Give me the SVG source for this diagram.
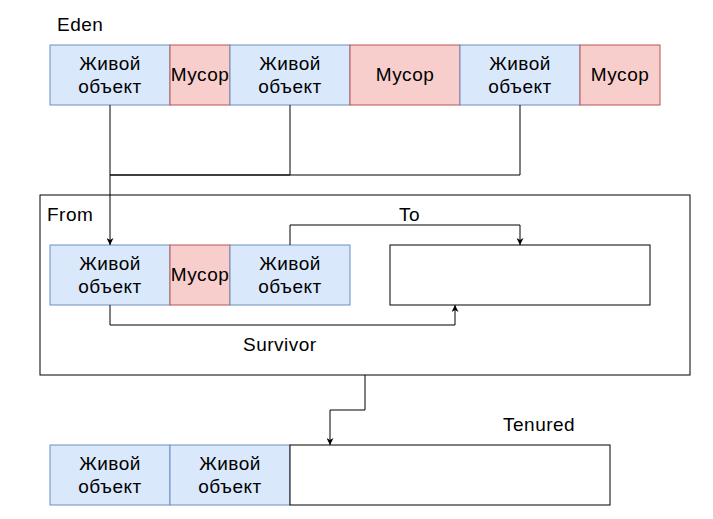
<svg xmlns="http://www.w3.org/2000/svg" width="713" height="519" viewBox="0 0 713 519">
<style>
text{font-family:"Liberation Sans",Arial,Helvetica,sans-serif;font-size:19px;letter-spacing:0.5px;fill:#000}
.c{text-anchor:middle}
.live{fill:#dae8fc;stroke:#6c8ebf;stroke-width:1}
.junk{fill:#f8cecc;stroke:#b85450;stroke-width:1}
.box{fill:#fff;stroke:#000;stroke-width:1}
.ln{fill:none;stroke:#000;stroke-width:1}
</style>
<defs>
<marker id="ah" viewBox="0 0 10 10" refX="10" refY="5" markerWidth="7" markerHeight="7" orient="auto" markerUnits="userSpaceOnUse">
<path d="M0,0 L10,5 L0,10 L3,5 Z" fill="#000"/>
</marker>
</defs>
<rect width="713" height="519" fill="#fff"/>
<text x="57" y="31">Eden</text>
<g id="survivor">
<rect class="box" x="40" y="195" width="650" height="180"/>
<text x="47" y="221">From</text>
<text x="399" y="221">To</text>
<text x="243" y="351">Survivor</text>
</g>
<g id="eden-live1"><rect class="live" x="50" y="45" width="120" height="60"/><text class="c" x="110" y="70">Живой</text><text class="c" x="110" y="93">объект</text></g>
<g id="eden-junk1"><rect class="junk" x="170" y="45" width="60" height="60"/><text class="c" x="200" y="81">Мусор</text></g>
<g id="eden-live2"><rect class="live" x="230" y="45" width="120" height="60"/><text class="c" x="290" y="70">Живой</text><text class="c" x="290" y="93">объект</text></g>
<g id="eden-junk2"><rect class="junk" x="350" y="45" width="110" height="60"/><text class="c" x="405" y="81">Мусор</text></g>
<g id="eden-live3"><rect class="live" x="460" y="45" width="120" height="60"/><text class="c" x="520" y="70">Живой</text><text class="c" x="520" y="93">объект</text></g>
<g id="eden-junk3"><rect class="junk" x="580" y="45" width="80" height="60"/><text class="c" x="620" y="81">Мусор</text></g>
<g id="from-live1"><rect class="live" x="50" y="245" width="120" height="60"/><text class="c" x="110" y="270">Живой</text><text class="c" x="110" y="293">объект</text></g>
<g id="from-junk"><rect class="junk" x="170" y="245" width="60" height="60"/><text class="c" x="200" y="281">Мусор</text></g>
<g id="from-live2"><rect class="live" x="230" y="245" width="120" height="60"/><text class="c" x="290" y="270">Живой</text><text class="c" x="290" y="293">объект</text></g>
<g id="to-box"><rect class="box" x="390" y="245" width="260" height="60"/></g>
<g id="tenured-live1"><rect class="live" x="50" y="445" width="120" height="60"/><text class="c" x="110" y="470">Живой</text><text class="c" x="110" y="493">объект</text></g>
<g id="tenured-live2"><rect class="live" x="170" y="445" width="120" height="60"/><text class="c" x="230" y="470">Живой</text><text class="c" x="230" y="493">объект</text></g>
<g id="tenured-space"><rect class="box" x="290" y="445" width="320" height="60"/></g>
<text x="503" y="431">Tenured</text>
<g id="connectors">
<path class="ln" d="M290,105 V175 H110"/>
<path class="ln" d="M520,105 V175 H110"/>
<path class="ln" d="M110,105 V245" marker-end="url(#ah)"/>
<path class="ln" d="M290,245 V225 H520 V245" marker-end="url(#ah)"/>
<path class="ln" d="M110,305 V325 H455 V305" marker-end="url(#ah)"/>
<path class="ln" d="M365,375 V410 H330 V445" marker-end="url(#ah)"/>
</g>
</svg>
